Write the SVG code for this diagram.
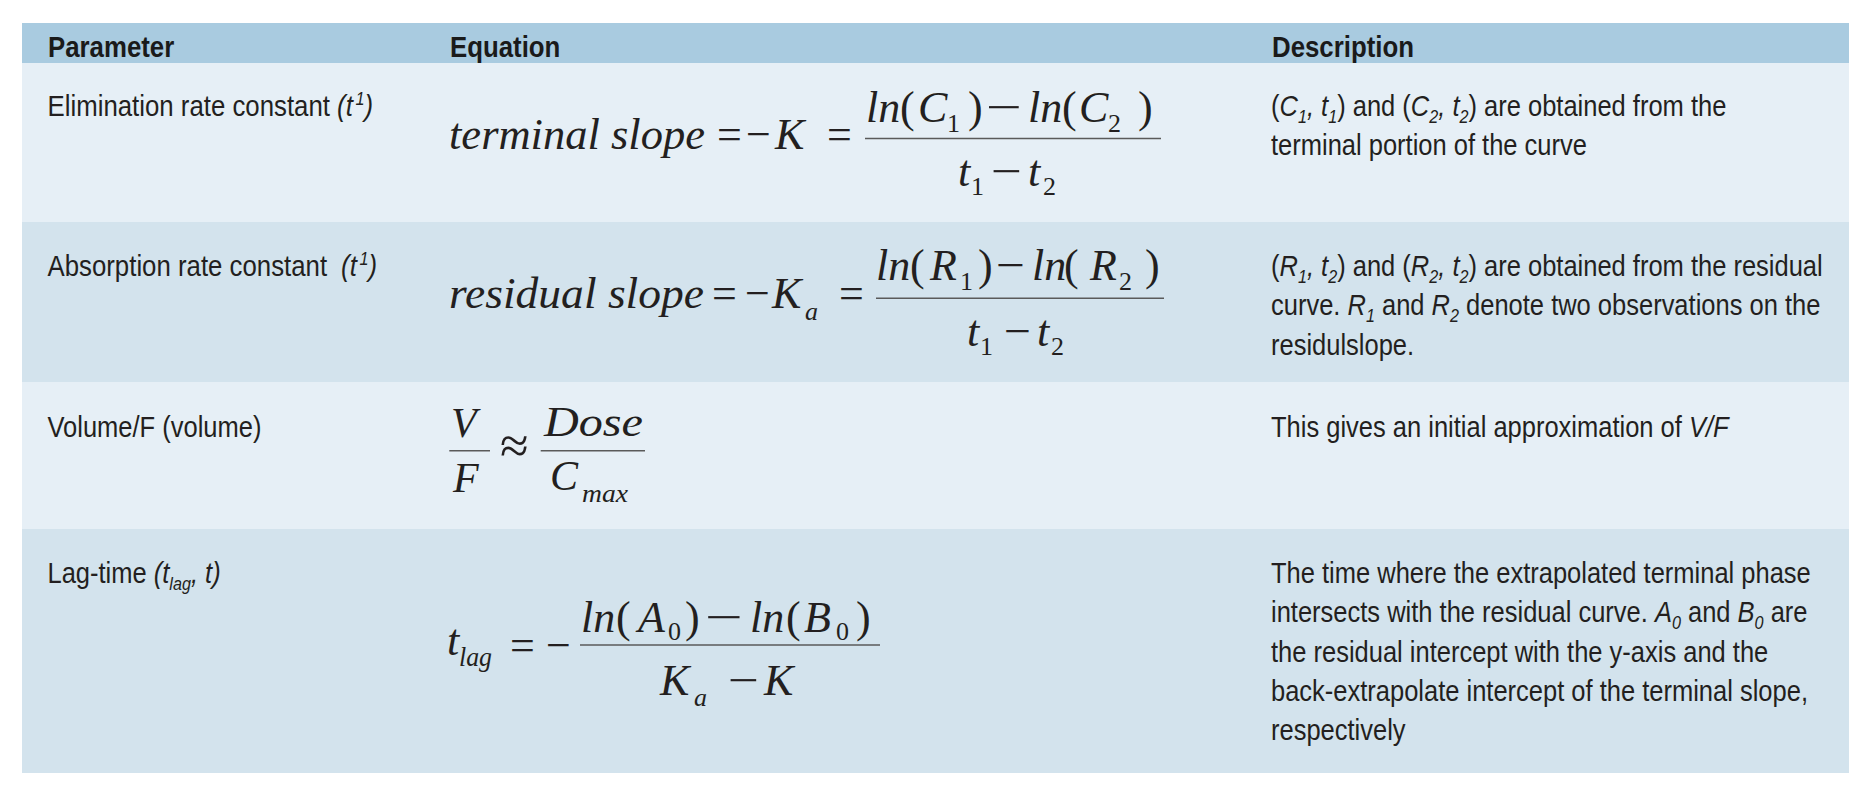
<svg xmlns="http://www.w3.org/2000/svg" width="1866" height="792" viewBox="0 0 1866 792">
<style>
.hd{font-family:"Liberation Sans",Arial,sans-serif;font-weight:bold;font-size:29px;fill:#1a1a1a}
.tx{font-family:"Liberation Sans",Arial,sans-serif;font-size:30px;fill:#231f20}
.it{font-style:italic}
.s{font-size:19px}
.eq{font-family:"Liberation Serif","Times New Roman",serif;font-size:44px;fill:#231f20}
.eqs{font-size:42px}
.m{font-style:italic}
.q{font-size:26px}
.fr{stroke:#5a5a5a;stroke-width:1.5}
</style>
<rect width="1866" height="792" fill="#ffffff"/>
<g id="header">
<rect x="22" y="23" width="1827" height="40" fill="#a9cbe0"/>
<text class="hd" transform="translate(48,0) scale(0.89,1)" y="57">Parameter</text>
<text class="hd" transform="translate(450,0) scale(0.89,1)" y="57">Equation</text>
<text class="hd" transform="translate(1272,0) scale(0.89,1)" y="57">Description</text>
</g>
<g id="row1">
<rect x="22" y="63" width="1827" height="159" fill="#e6eff6"/>
<text class="tx" transform="translate(47.5,0) scale(0.86,1)" y="116">Elimination rate constant <tspan class="it">(t</tspan><tspan class="it s" dx="3" dy="-11">1</tspan><tspan class="it" dy="11">)</tspan></text>
<g class="eq">
<text x="449" y="149" class="m" textLength="256" lengthAdjust="spacingAndGlyphs">terminal slope</text>
<text y="149"><tspan x="717">=</tspan><tspan x="746">−</tspan><tspan x="775" class="m">K</tspan><tspan x="827">=</tspan></text>
<line x1="865" y1="138.5" x2="1161" y2="138.5" class="fr"/>
<text y="121.5"><tspan x="866" class="m">ln</tspan><tspan x="900">(</tspan><tspan x="918" class="m">C</tspan><tspan x="947" y="131.5" class="q">1</tspan><tspan x="968" y="121.5">)</tspan><tspan x="1028" class="m">ln</tspan><tspan x="1062">(</tspan><tspan x="1079" class="m">C</tspan><tspan x="1108" y="131.5" class="q">2</tspan><tspan x="1138" y="121.5">)</tspan></text>
<text x="986" y="121.5" textLength="36" lengthAdjust="spacingAndGlyphs">−</text>
<text y="186"><tspan x="958" class="m">t</tspan><tspan x="971" y="195" class="q">1</tspan><tspan x="1028" y="186" class="m">t</tspan><tspan x="1043" y="195" class="q">2</tspan></text>
<text x="991" y="186" textLength="31" lengthAdjust="spacingAndGlyphs">−</text>
</g>
<text class="tx" transform="translate(1271,0) scale(0.85,1)" y="116">(<tspan class="it">C</tspan><tspan class="it s" dy="7">1</tspan><tspan class="it" dy="-7">, t</tspan><tspan class="it s" dy="7">1</tspan><tspan dy="-7">) and (</tspan><tspan class="it">C</tspan><tspan class="it s" dy="7">2</tspan><tspan class="it" dy="-7">, t</tspan><tspan class="it s" dy="7">2</tspan><tspan dy="-7">) are obtained from the</tspan></text>
<text class="tx" transform="translate(1271,0) scale(0.85,1)" y="155.5">terminal portion of the curve</text>
</g>
<g id="row2">
<rect x="22" y="222" width="1827" height="160" fill="#d3e3ed"/>
<text class="tx" transform="translate(47.5,0) scale(0.86,1)" y="276">Absorption rate constant <tspan class="it" dx="8">(t</tspan><tspan class="it s" dx="3" dy="-11">1</tspan><tspan class="it" dy="11">)</tspan></text>
<g class="eq">
<text x="449" y="308" class="m" textLength="255" lengthAdjust="spacingAndGlyphs">residual slope</text>
<text y="308"><tspan x="712">=</tspan><tspan x="745">−</tspan><tspan x="772" class="m">K</tspan><tspan x="805" y="320" class="m q">a</tspan><tspan x="839" y="308">=</tspan></text>
<line x1="876" y1="298.3" x2="1164" y2="298.3" class="fr"/>
<text y="280"><tspan x="876" class="m">ln</tspan><tspan x="910">(</tspan><tspan x="930" class="m">R</tspan><tspan x="960" y="290" class="q">1</tspan><tspan x="978" y="280">)</tspan><tspan x="1032" class="m">ln</tspan><tspan x="1064">(</tspan><tspan x="1090" class="m">R</tspan><tspan x="1119" y="290" class="q">2</tspan><tspan x="1145" y="280">)</tspan></text>
<text x="996" y="280" textLength="29" lengthAdjust="spacingAndGlyphs">−</text>
<text y="346"><tspan x="967" class="m">t</tspan><tspan x="980" y="355" class="q">1</tspan><tspan x="1037" y="346" class="m">t</tspan><tspan x="1051" y="355" class="q">2</tspan></text>
<text x="1004" y="346" textLength="27" lengthAdjust="spacingAndGlyphs">−</text>
</g>
<text class="tx" transform="translate(1271,0) scale(0.85,1)" y="276">(<tspan class="it">R</tspan><tspan class="it s" dy="7">1</tspan><tspan class="it" dy="-7">, t</tspan><tspan class="it s" dy="7">2</tspan><tspan dy="-7">) and (</tspan><tspan class="it">R</tspan><tspan class="it s" dy="7">2</tspan><tspan class="it" dy="-7">, t</tspan><tspan class="it s" dy="7">2</tspan><tspan dy="-7">) are obtained from the residual</tspan></text>
<text class="tx" transform="translate(1271,0) scale(0.85,1)" y="315.5">curve. <tspan class="it">R</tspan><tspan class="it s" dy="7">1</tspan><tspan dy="-7"> and </tspan><tspan class="it">R</tspan><tspan class="it s" dy="7">2</tspan><tspan dy="-7"> denote two observations on the</tspan></text>
<text class="tx" transform="translate(1271,0) scale(0.85,1)" y="355">residulslope.</text>
</g>
<g id="row3">
<rect x="22" y="382" width="1827" height="147" fill="#e6eff6"/>
<text class="tx" transform="translate(47.5,0) scale(0.85,1)" y="437">Volume/F (volume)</text>
<g class="eq eqs">
<text x="451" y="437" class="m">V</text>
<line x1="449.3" y1="450.7" x2="490" y2="450.7" class="fr"/>
<text x="453" y="492" class="m">F</text>
<text x="500" y="463" font-size="52">≈</text>
<text x="544" y="436" class="m" textLength="99" lengthAdjust="spacingAndGlyphs">Dose</text>
<line x1="540.7" y1="450.7" x2="645" y2="450.7" class="fr"/>
<text y="490"><tspan x="550" class="m">C</tspan><tspan x="582" y="501.7" class="m q" textLength="46" lengthAdjust="spacingAndGlyphs">max</tspan></text>
</g>
<text class="tx" transform="translate(1271,0) scale(0.85,1)" y="437">This gives an initial approximation of <tspan class="it">V/F</tspan></text>
</g>
<g id="row4">
<rect x="22" y="529" width="1827" height="244" fill="#d3e3ed"/>
<text class="tx" transform="translate(47.5,0) scale(0.85,1)" y="583">Lag-time <tspan class="it">(t</tspan><tspan class="it s" dy="7">lag</tspan><tspan class="it" dy="-7">, t)</tspan></text>
<g class="eq">
<text y="655"><tspan x="447" class="m">t</tspan><tspan x="459" y="666" class="m" font-size="28" textLength="33" lengthAdjust="spacingAndGlyphs">lag</tspan><tspan x="510" y="660">=</tspan><tspan x="546">−</tspan></text>
<line x1="580" y1="645" x2="880" y2="645" class="fr"/>
<text y="631.5"><tspan x="581" class="m">ln</tspan><tspan x="616">(</tspan><tspan x="638" class="m">A</tspan><tspan x="668" y="640" class="q">0</tspan><tspan x="685" y="631.5">)</tspan><tspan x="750" class="m">ln</tspan><tspan x="786">(</tspan><tspan x="804" class="m">B</tspan><tspan x="836" y="640" class="q">0</tspan><tspan x="856" y="631.5">)</tspan></text>
<text x="705" y="631.5" textLength="38" lengthAdjust="spacingAndGlyphs">−</text>
<text y="695"><tspan x="660" class="m">K</tspan><tspan x="694" y="706" class="m q">a</tspan><tspan x="764" y="695" class="m">K</tspan></text>
<text x="728" y="695" textLength="31" lengthAdjust="spacingAndGlyphs">−</text>
</g>
<text class="tx" transform="translate(1271,0) scale(0.85,1)" y="583">The time where the extrapolated terminal phase</text>
<text class="tx" transform="translate(1271,0) scale(0.85,1)" y="622.3">intersects with the residual curve. <tspan class="it">A</tspan><tspan class="it s" dy="7">0</tspan><tspan dy="-7"> and </tspan><tspan class="it">B</tspan><tspan class="it s" dy="7">0</tspan><tspan dy="-7"> are</tspan></text>
<text class="tx" transform="translate(1271,0) scale(0.85,1)" y="661.6">the residual intercept with the y-axis and the</text>
<text class="tx" transform="translate(1271,0) scale(0.85,1)" y="700.9">back-extrapolate intercept of the terminal slope,</text>
<text class="tx" transform="translate(1271,0) scale(0.85,1)" y="740.2">respectively</text>
</g>
</svg>
